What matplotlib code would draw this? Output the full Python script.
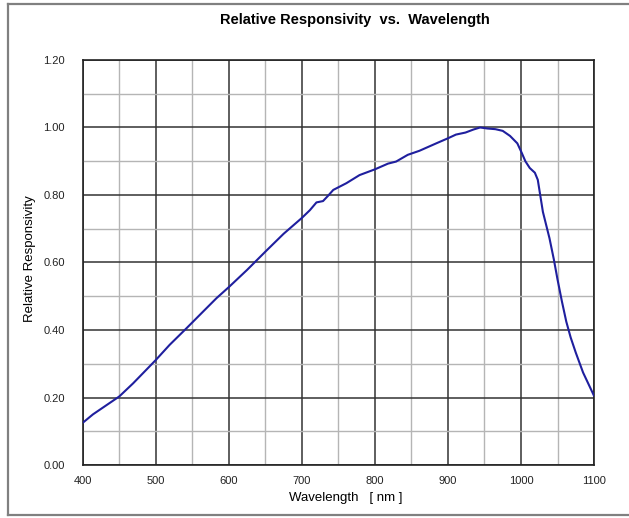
import matplotlib
matplotlib.use("Agg")
import matplotlib.pyplot as plt
from matplotlib.ticker import MultipleLocator
from matplotlib.lines import Line2D

plt.rcParams['font.family'] = ['Liberation Sans', 'DejaVu Sans']

# Данные кривой
wavelength = [400, 414, 433, 450, 469, 487, 500, 519, 542, 565, 583, 600, 625, 650,
              675, 700, 711, 720, 729, 736, 743, 761, 779, 800, 818, 829, 845, 861,
              884, 900, 911, 924, 935, 944, 954, 965, 975, 985, 995, 1001, 1006, 1012, 1019, 1023,
              1030, 1039, 1045, 1050, 1056, 1062, 1068, 1075, 1085, 1100]
responsivity = [0.125, 0.150, 0.178, 0.203, 0.242, 0.282, 0.311, 0.356, 0.405, 0.455, 0.494, 0.527, 0.578, 0.632,
                0.685, 0.732, 0.755, 0.778, 0.782, 0.798, 0.815, 0.835, 0.859, 0.876, 0.893, 0.899, 0.919, 0.931,
                0.953, 0.968, 0.979, 0.985, 0.994, 1.000, 0.997, 0.995, 0.990, 0.975, 0.953, 0.925, 0.900, 0.880, 0.866, 0.845,
                0.750, 0.672, 0.609, 0.550, 0.485, 0.425, 0.378, 0.333, 0.274, 0.205]

fig = plt.figure(figsize=(6.29, 5.18), dpi=100)
ax = fig.add_axes([0.1315, 0.1023, 0.8129, 0.7819])

ax.plot(wavelength, responsivity, color='#1f1f9e', linewidth=1.5, zorder=3,
        solid_joinstyle='round', solid_capstyle='round')

ax.set_xlim(400, 1100)
ax.set_ylim(0, 1.2)
ax.xaxis.set_major_locator(MultipleLocator(100))
ax.xaxis.set_minor_locator(MultipleLocator(50))
ax.yaxis.set_major_locator(MultipleLocator(0.2))
ax.yaxis.set_minor_locator(MultipleLocator(0.1))
ax.yaxis.set_major_formatter(lambda v, p: f"{v:.2f}")

ax.grid(which='major', color='#333333', linewidth=1.1)
ax.grid(which='minor', color='#b5b5b5', linewidth=1.0)
ax.tick_params(which='both', length=0, labelsize=8, colors='#222222')
ax.tick_params(axis='y', pad=13)
ax.tick_params(axis='x', pad=8)
for s in ax.spines.values():
    s.set_color('#222222')
    s.set_linewidth(1.2)

fig.text(0.564, 0.962, "Relative Responsivity  vs.  Wavelength", ha='center', va='center',
         fontsize=10.5, fontweight='bold')
fig.text(0.55, 0.038, "Wavelength   [ nm ]", ha='center', va='center', fontsize=9.5)
fig.text(0.048, 0.5, "Relative Responsivity", ha='center', va='center', fontsize=9.5, rotation=90)

# Рамка вокруг рисунка
for coords in [([0.013, 1.0], [0.993, 0.993]), ([0.013, 1.0], [0.006, 0.006]), ([0.013, 0.013], [0.006, 0.993])]:
    fig.add_artist(Line2D(coords[0], coords[1], color='#808080', linewidth=1.6, transform=fig.transFigure))

fig.savefig("out.png", dpi=100)
